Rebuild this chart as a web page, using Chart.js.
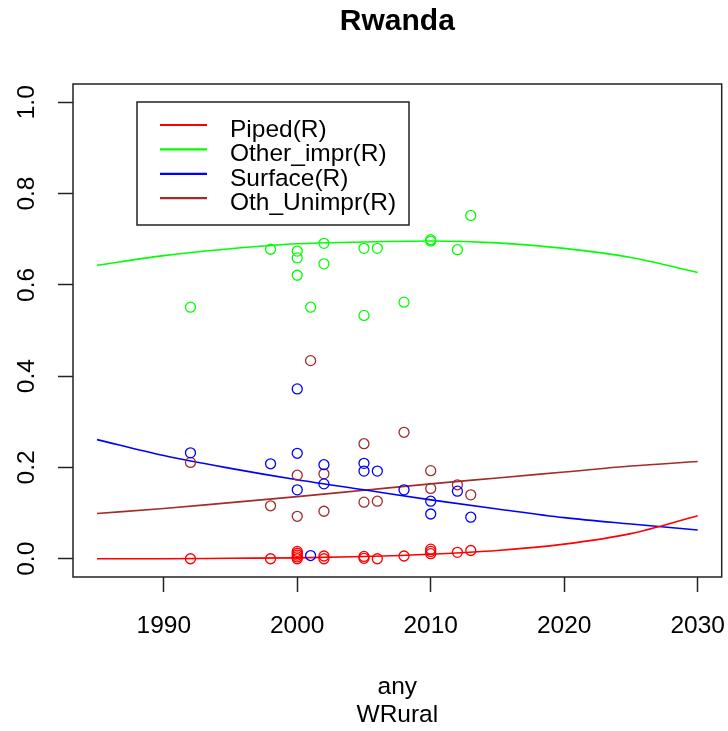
<!DOCTYPE html>
<html>
<head>
<meta charset="utf-8">
<title>Rwanda</title>
<script src="https://cdn.jsdelivr.net/npm/chart.js@4/dist/chart.umd.min.js"></script>
<style>
  html, body { margin: 0; padding: 0; background: #ffffff; }
  canvas { display: block; }
</style>
</head>
<body>
<canvas id="chart" width="728" height="731"></canvas>
<script>
// Survey observations (share of rural population by water source)
const pipedYears = [1992, 1998, 2000, 2000, 2000, 2000, 2000, 2002, 2002, 2005, 2005, 2006, 2008, 2010, 2010, 2010, 2012, 2013];
const pipedObs   = [0.000, 0.000, 0.000, 0.004, 0.008, 0.012, 0.016, 0.006, 0.000, 0.005, 0.001, 0.000, 0.006, 0.011, 0.016, 0.021, 0.014, 0.018];

const otherYears = [1992, 1998, 2000, 2000, 2000, 2001, 2002, 2002, 2005, 2005, 2006, 2008, 2010, 2010, 2012, 2013];
const otherObs   = [0.551, 0.678, 0.674, 0.659, 0.621, 0.551, 0.691, 0.646, 0.680, 0.533, 0.680, 0.562, 0.699, 0.696, 0.677, 0.752];

const surfaceYears = [1992, 1998, 2000, 2000, 2000, 2001, 2002, 2002, 2005, 2005, 2006, 2008, 2010, 2010, 2012, 2013];
const surfaceObs   = [0.232, 0.208, 0.372, 0.231, 0.151, 0.007, 0.206, 0.164, 0.209, 0.192, 0.192, 0.151, 0.126, 0.098, 0.148, 0.091];

const unimprYears = [1992, 1998, 2000, 2000, 2001, 2002, 2002, 2005, 2005, 2006, 2008, 2010, 2010, 2012, 2013];
const unimprObs   = [0.211, 0.116, 0.183, 0.093, 0.434, 0.186, 0.104, 0.252, 0.124, 0.126, 0.277, 0.193, 0.154, 0.162, 0.140];

// Fitted trend curves
const trendYears   = [1985, 1990, 1995, 2000, 2005, 2010, 2015, 2020, 2025, 2030];
const pipedTrend   = [0.000, 0.000, 0.001, 0.002, 0.005, 0.010, 0.018, 0.032, 0.055, 0.094];
const otherTrend   = [0.643, 0.664, 0.679, 0.690, 0.694, 0.696, 0.692, 0.680, 0.660, 0.627];
const surfaceTrend = [0.261, 0.226, 0.198, 0.173, 0.151, 0.129, 0.109, 0.090, 0.076, 0.063];
const unimprTrend  = [0.099, 0.110, 0.123, 0.136, 0.150, 0.164, 0.177, 0.190, 0.203, 0.213];

// Axis ticks and labels
const xTicks = [1990, 2000, 2010, 2020, 2030];
const yTicks = [0.0, 0.2, 0.4, 0.6, 0.8, 1.0];
const seriesNames = ['Piped(R)', 'Other_impr(R)', 'Surface(R)', 'Oth_Unimpr(R)'];
const chartTitle = 'Rwanda';
const xTitle = ['any', 'WRural'];

const colors = ['#ff0000', '#00ff00', '#0000ff', '#a52a2a'];
const FONT = 'Liberation Sans, Arial, sans-serif';

const toPoints = (xs, ys) => xs.map((x, i) => ({ x: x, y: ys[i] }));

const obsSets = [
  [pipedYears, pipedObs],
  [otherYears, otherObs],
  [surfaceYears, surfaceObs],
  [unimprYears, unimprObs]
];
const trendSets = [pipedTrend, otherTrend, surfaceTrend, unimprTrend];

const datasets = [];
obsSets.forEach(([xs, ys], i) => {
  datasets.push({
    label: seriesNames[i] + ' obs',
    data: toPoints(xs, ys),
    showLine: false,
    pointStyle: 'circle',
    pointRadius: 5,
    pointBorderWidth: 1.3,
    borderColor: colors[i],
    backgroundColor: 'rgba(0,0,0,0)',
    inLegend: false
  });
});
trendSets.forEach((ys, i) => {
  datasets.push({
    label: seriesNames[i],
    data: toPoints(trendYears, ys),
    showLine: true,
    pointRadius: 0,
    borderWidth: 1.6,
    borderColor: colors[i],
    backgroundColor: colors[i],
    cubicInterpolationMode: 'monotone',
    fill: false,
    inLegend: true
  });
});

// Frame around the plotting region
const framePlugin = {
  id: 'frame',
  afterDatasetsDraw(chart) {
    const a = chart.chartArea;
    const ctx = chart.ctx;
    ctx.save();
    ctx.strokeStyle = '#222222';
    ctx.lineWidth = 1.5;
    ctx.strokeRect(a.left, a.top, a.right - a.left, a.bottom - a.top);
    ctx.restore();
  }
};

// Boxed legend placed inside the plotting region
const boxLegendPlugin = {
  id: 'boxLegend',
  afterDatasetsDraw(chart, args, opts) {
    const ctx = chart.ctx;
    const items = chart.data.datasets.filter(d => d.inLegend);
    ctx.save();
    ctx.strokeStyle = '#222222';
    ctx.lineWidth = 1.5;
    ctx.strokeRect(opts.left, opts.top, opts.width, opts.height);
    ctx.font = opts.fontSize + 'px ' + FONT;
    ctx.textBaseline = 'alphabetic';
    ctx.textAlign = 'left';
    items.forEach((d, i) => {
      const y = opts.firstRow + i * opts.rowGap;
      ctx.strokeStyle = d.borderColor;
      ctx.lineWidth = 2.2;
      ctx.beginPath();
      ctx.moveTo(opts.lineStart, y);
      ctx.lineTo(opts.lineEnd, y);
      ctx.stroke();
      ctx.fillStyle = '#000000';
      ctx.fillText(d.label, opts.textX, y + opts.textDrop);
    });
    ctx.restore();
  }
};

// Keep tick labels from shrinking the plotting region
function noLabelPadding(scale) {
  scale.paddingLeft = 0;
  scale.paddingRight = 0;
  scale.paddingTop = 0;
  scale.paddingBottom = 0;
}

new Chart(document.getElementById('chart'), {
  type: 'scatter',
  data: { datasets: datasets },
  plugins: [framePlugin, boxLegendPlugin],
  options: {
    responsive: false,
    animation: false,
    devicePixelRatio: 1,
    layout: { padding: { left: 0, right: 6, top: 0, bottom: 0 } },
    plugins: {
      legend: { display: false },
      tooltip: { enabled: false },
      title: {
        display: true,
        fullSize: false,
        text: chartTitle,
        color: '#000000',
        font: { family: FONT, size: 30, weight: 'bold', lineHeight: 1.2 },
        padding: { top: 4, bottom: 44 }
      },
      boxLegend: {
        left: 137, top: 102, width: 272, height: 123,
        firstRow: 125, rowGap: 24.4,
        lineStart: 160, lineEnd: 207,
        textX: 230, textDrop: 12, fontSize: 24.5
      }
    },
    scales: {
      x: {
        type: 'linear',
        min: 1983.2,
        max: 2031.8,
        afterBuildTicks(scale) { scale.ticks = xTicks.map(v => ({ value: v })); },
        afterFit(scale) { scale.height = 154; noLabelPadding(scale); },
        border: { display: false },
        grid: {
          display: true,
          drawOnChartArea: false,
          drawTicks: true,
          tickLength: 15,
          tickColor: '#222222',
          tickWidth: 1.5
        },
        ticks: {
          autoSkip: false,
          maxRotation: 0,
          padding: 20,
          color: '#000000',
          font: { family: FONT, size: 24.5 },
          callback: v => String(v)
        },
        title: {
          display: true,
          text: xTitle,
          color: '#000000',
          font: { family: FONT, size: 24.5, lineHeight: 28 / 24.5 },
          padding: { top: 0, bottom: 1.5 }
        }
      },
      y: {
        type: 'linear',
        min: -0.04,
        max: 1.04,
        afterBuildTicks(scale) { scale.ticks = yTicks.map(v => ({ value: v })); },
        afterFit(scale) { scale.width = 73; noLabelPadding(scale); },
        border: { display: false },
        grid: {
          display: true,
          drawOnChartArea: false,
          drawTicks: true,
          tickLength: 15,
          tickColor: '#222222',
          tickWidth: 1.5
        },
        ticks: {
          autoSkip: false,
          minRotation: 90,
          maxRotation: 90,
          crossAlign: 'center',
          padding: 14,
          color: '#000000',
          font: { family: FONT, size: 24.5 },
          callback: v => Number(v).toFixed(1)
        }
      }
    }
  }
});
</script>
</body>
</html>
